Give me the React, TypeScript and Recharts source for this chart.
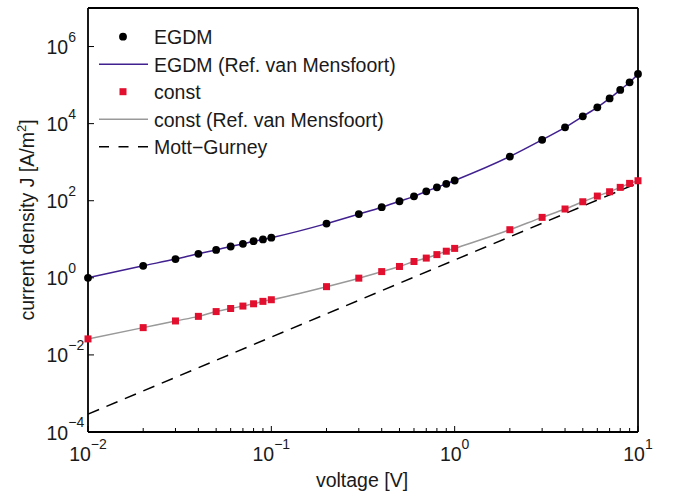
import { ComposedChart, XAxis, YAxis, Scatter, Line, Legend } from 'recharts';

// voltage steps of the simulation [V]
const voltage = [
  0.01, 0.02, 0.03, 0.04, 0.05, 0.06, 0.07, 0.08, 0.09,
  0.1, 0.2, 0.3, 0.4, 0.5, 0.6, 0.7, 0.8, 0.9,
  1, 2, 3, 4, 5, 6, 7, 8, 9, 10,
];

// current density J [A/m^2]
const egdm = [
  1.0, 2.05, 3.06, 4.2, 5.3, 6.5, 7.6, 8.9, 9.9,
  11, 25.5, 45, 68, 97, 130, 175, 223, 275,
  335, 1400, 3800, 8000, 15500, 26500, 45000, 75000, 118000, 195000,
];
const egdmRef = [
  1.0, 2.05, 3.06, 4.2, 5.3, 6.5, 7.6, 8.9, 9.9,
  11, 25.5, 45, 68, 97, 130, 175, 223, 275,
  335, 1400, 3800, 8000, 15500, 26500, 45000, 75000, 118000, 195000,
];
const constMob = [
  0.026, 0.051, 0.076, 0.1, 0.133, 0.16, 0.185, 0.212, 0.245,
  0.27, 0.59, 0.98, 1.45, 1.97, 2.65, 3.25, 4.0, 4.9,
  5.8, 17.7, 37, 61, 94, 132, 171, 222, 282, 330,
];
const constRef = [
  0.026, 0.051, 0.076, 0.1, 0.133, 0.16, 0.185, 0.212, 0.245,
  0.27, 0.59, 0.98, 1.45, 1.97, 2.65, 3.25, 4.0, 4.9,
  5.8, 17.7, 37, 61, 94, 132, 171, 222, 282, 330,
];
const mottGurneyV = [0.01, 10];
const mottGurneyJ = [2.9e-4, 290];

const xTicks = [
  0.01, 0.02, 0.03, 0.04, 0.05, 0.06, 0.07, 0.08, 0.09,
  0.1, 0.2, 0.3, 0.4, 0.5, 0.6, 0.7, 0.8, 0.9,
  1, 2, 3, 4, 5, 6, 7, 8, 9, 10,
];
const yTicks = [1e-4, 1e-2, 1, 1e2, 1e4, 1e6];

const egdmData = voltage.map((v, i) => ({ v, j: egdm[i] }));
const egdmRefData = voltage.map((v, i) => ({ v, j: egdmRef[i] }));
const constData = voltage.map((v, i) => ({ v, j: constMob[i] }));
const constRefData = voltage.map((v, i) => ({ v, j: constRef[i] }));
const mgData = mottGurneyV.map((v, i) => ({ v, j: mottGurneyJ[i] }));

const FONT = '"Liberation Sans", Arial, Helvetica, sans-serif';
const TEXT = '#1a1a1a';
const PURPLE = '#40218f';
const GRAY = '#999999';
const RED = '#e2102e';
const FS = 19.5;

const isMajor = (v: number) => Math.abs(Math.log10(v) - Math.round(Math.log10(v))) < 1e-6;
const expOf = (v: number) => Math.round(Math.log10(v)).toString().replace('-', '\u2212');

function BottomTick({ x, y, payload }: any) {
  const major = isMajor(payload.value);
  return (
    <g>
      <line x1={x} x2={x} y1={y} y2={y - (major ? 6 : 4)} stroke="#000" strokeWidth={1} />
      {major && (
        <text x={x} y={y + 29} textAnchor="middle" fontSize={FS} fontFamily={FONT} fill={TEXT}>
          10<tspan dy={-12.5} fontSize={14}>{expOf(payload.value)}</tspan>
        </text>
      )}
    </g>
  );
}

function TopTick({ x, y, payload }: any) {
  const major = isMajor(payload.value);
  return <line x1={x} x2={x} y1={y} y2={y + (major ? 6 : 4)} stroke="#000" strokeWidth={1} />;
}

function LeftTick({ x, y, payload }: any) {
  return (
    <g>
      <line x1={x} x2={x + 6} y1={y} y2={y} stroke="#000" strokeWidth={1} />
      <text x={46.5} y={y + 7.5} textAnchor="start" fontSize={FS} fontFamily={FONT} fill={TEXT}>
        10<tspan dy={-12.5} fontSize={14}>{expOf(payload.value)}</tspan>
      </text>
    </g>
  );
}

function RightTick({ x, y }: any) {
  return <line x1={x} x2={x - 6} y1={y} y2={y} stroke="#000" strokeWidth={1} />;
}

function YLabel({ viewBox }: any) {
  const cx = viewBox.x + 33.5;
  const cy = viewBox.y + viewBox.height / 2;
  return (
    <text
      x={cx}
      y={cy}
      transform={`rotate(-90, ${cx}, ${cy})`}
      textAnchor="middle"
      fontSize={FS}
      fontFamily={FONT}
      fill={TEXT}
    >
      current density J [A/m<tspan dy={-8} fontSize={13}>2</tspan>
      <tspan dy={8}>]</tspan>
    </text>
  );
}

function XLabel({ viewBox }: any) {
  return (
    <text
      x={viewBox.x + viewBox.width / 2 - 1}
      y={viewBox.y + 55}
      textAnchor="middle"
      fontSize={FS}
      fontFamily={FONT}
      fill={TEXT}
    >
      voltage [V]
    </text>
  );
}

const legendItems = [
  { label: 'EGDM', kind: 'dot' },
  { label: 'EGDM (Ref. van Mensfoort)', kind: 'line', color: PURPLE },
  { label: 'const', kind: 'square' },
  { label: 'const (Ref. van Mensfoort)', kind: 'line', color: GRAY },
  { label: 'Mott\u2212Gurney', kind: 'dash' },
];

function LegendBox() {
  return (
    <svg width={330} height={145} style={{ display: 'block' }}>
      {legendItems.map((item, i) => {
        const y = 18.7 + 27.5 * i;
        return (
          <g key={item.label}>
            {item.kind === 'dot' && <circle cx={33} cy={y} r={3.9} fill="#000" />}
            {item.kind === 'square' && <rect x={29.5} y={y - 3.5} width={7} height={7} fill={RED} />}
            {item.kind === 'line' && (
              <line x1={9} x2={58} y1={y} y2={y} stroke={item.color} strokeWidth={1.5} />
            )}
            {item.kind === 'dash' && (
              <line x1={9} x2={58} y1={y} y2={y} stroke="#000" strokeWidth={1.5} strokeDasharray="10 9.5" />
            )}
            <text x={64} y={y + 7.5} fontSize={FS} fontFamily={FONT} fill={TEXT}>
              {item.label}
            </text>
          </g>
        );
      })}
    </svg>
  );
}

export default function App() {
  return (
    <div style={{ position: 'absolute', left: 0, top: 0 }}>
      <ComposedChart width={673} height={491} margin={{ top: 0, right: 0, bottom: 0, left: 0 }}>
        <XAxis
          dataKey="v"
          type="number"
          scale="log"
          domain={[0.01, 10]}
          ticks={xTicks}
          interval={0}
          height={59}
          tickSize={0}
          tickMargin={0}
          tickLine={false}
          axisLine={{ stroke: '#000', strokeWidth: 1.8 }}
          tick={<BottomTick />}
          label={<XLabel />}
        />
        <XAxis
          xAxisId="top"
          orientation="top"
          dataKey="v"
          type="number"
          scale="log"
          domain={[0.01, 10]}
          ticks={xTicks}
          interval={0}
          height={8}
          tickSize={0}
          tickMargin={0}
          tickLine={false}
          axisLine={{ stroke: '#000', strokeWidth: 1.8 }}
          tick={<TopTick />}
        />
        <YAxis
          type="number"
          scale="log"
          domain={[1e-4, 1e7]}
          ticks={yTicks}
          interval={0}
          width={88}
          tickSize={0}
          tickMargin={0}
          tickLine={false}
          axisLine={{ stroke: '#000', strokeWidth: 1.8 }}
          tick={<LeftTick />}
          label={<YLabel />}
        />
        <YAxis
          yAxisId="right"
          orientation="right"
          type="number"
          scale="log"
          domain={[1e-4, 1e7]}
          ticks={yTicks}
          interval={0}
          width={35}
          tickSize={0}
          tickMargin={0}
          tickLine={false}
          axisLine={{ stroke: '#000', strokeWidth: 1.8 }}
          tick={<RightTick />}
        />
        <Scatter
          name="EGDM"
          data={egdmData}
          dataKey="j"
          isAnimationActive={false}
          shape={(p: any) => <circle cx={p.cx} cy={p.cy} r={3.9} fill="#000" />}
        />
        <Scatter
          name="const"
          data={constData}
          dataKey="j"
          isAnimationActive={false}
          shape={(p: any) => <rect x={p.cx - 3.5} y={p.cy - 3.5} width={7} height={7} fill={RED} />}
        />
        <Line
          name="EGDM (Ref. van Mensfoort)"
          data={egdmRefData}
          dataKey="j"
          type="monotone"
          stroke={PURPLE}
          strokeWidth={1.5}
          dot={false}
          activeDot={false}
          isAnimationActive={false}
        />
        <Line
          name="const (Ref. van Mensfoort)"
          data={constRefData}
          dataKey="j"
          type="monotone"
          stroke={GRAY}
          strokeWidth={1.5}
          dot={false}
          activeDot={false}
          isAnimationActive={false}
        />
        <Line
          name="Mott-Gurney"
          data={mgData}
          dataKey="j"
          type="linear"
          stroke="#000"
          strokeWidth={1.5}
          strokeDasharray="12 8"
          dot={false}
          activeDot={false}
          isAnimationActive={false}
        />
        <Legend
          layout="vertical"
          align="center"
          verticalAlign="middle"
          wrapperStyle={{ top: 18, left: 90, width: 330, height: 145 }}
          content={() => <LegendBox />}
        />
      </ComposedChart>
    </div>
  );
}
